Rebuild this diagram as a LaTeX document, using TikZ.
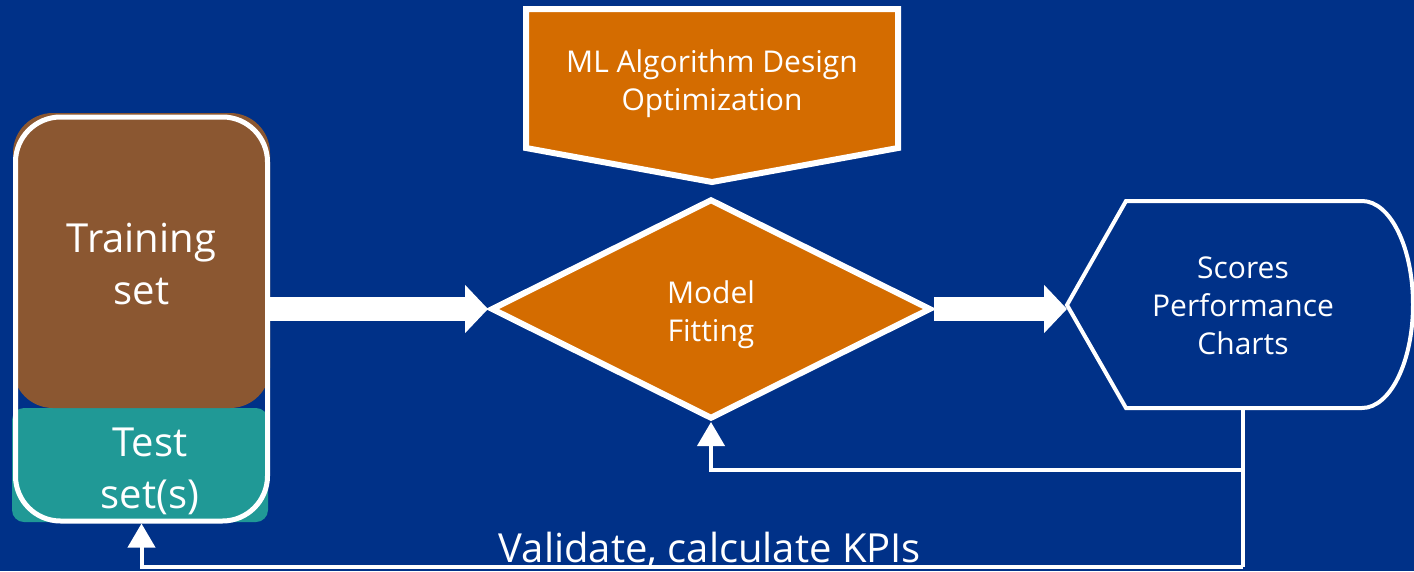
\documentclass[tikz,border=0pt]{standalone}
\usepackage{fontspec}
\setmainfont{Open Sans}
\usetikzlibrary{shapes.geometric, arrows.meta}
\definecolor{bgblue}{RGB}{0,49,136}
\definecolor{trainbrown}{RGB}{139,87,49}
\definecolor{testteal}{RGB}{32,153,150}
\definecolor{fitorange}{RGB}{212,108,0}
\tikzstyle{bigtext} = [text=white, align=center, font=\fontsize{40}{52}\selectfont]
\tikzstyle{medtext} = [text=white, align=center, font=\fontsize{30}{38}\selectfont]
\tikzstyle{trainset} = [rectangle, rounded corners=40pt, minimum width=257pt, minimum height=295pt, fill=trainbrown]
\tikzstyle{testset} = [rectangle, rounded corners=12pt, minimum width=256pt, minimum height=114pt, fill=testteal]
\tikzstyle{dataframe} = [rectangle, rounded corners=45pt, minimum width=252pt, minimum height=404pt, draw=white, line width=5pt]
\tikzstyle{decision} = [diamond, minimum width=440pt, minimum height=220pt, draw=white, line width=6pt, fill=fitorange]
\tikzstyle{display} = [rectangle, minimum width=352pt, minimum height=207pt, outer sep=0pt, medtext]
\tikzstyle{fatarrow} = [white, line width=24pt, -{Triangle[length=23pt,width=47pt]}]
\tikzstyle{arrow} = [white, line width=4pt, -{Triangle[length=24pt,width=27pt]}]
\tikzstyle{feedline} = [white, line width=4pt]

\begin{document}
\begin{tikzpicture}[x=1pt, y=-1pt]
\fill[bgblue] (0,0) rectangle (1414,571);
\useasboundingbox (0,0) rectangle (1414,571);

% data sets
\node (test) [testset, label={[bigtext, xshift=10pt, yshift=-6pt]center:Test\\set(s)}] at (140,465) {};
\node (train) [trainset, label={[bigtext, yshift=-4pt]center:Training\\set}] at (141.5,260.5) {};
\node (data) [dataframe] at (141.5,319) {};

% design box
\draw[white, line width=6pt, fill=fitorange] (526,9) -- (898,9) -- (898,148) -- (712,182) -- (526,148) -- cycle;
\node (design) [medtext] at (712,84) {ML Algorithm Design\\Optimization};

\node (fit) [decision, label={[medtext, yshift=-6pt]center:Model\\Fitting}] at (711,309) {};

% results
\draw[white, line width=4pt, fill=bgblue] (1067,305) -- (1126,201) -- (1362,201) arc[start angle=90, end angle=-90, x radius=51pt, y radius=103.5pt] -- (1126,408) -- cycle;
\node (scores) [display] at (1243,306) {Scores\\Performance\\Charts};

\draw [fatarrow] (data.east |- fit.west) -- (fit.west);
\draw [fatarrow] (fit.east) -- (scores.west |- fit.east);

% feedback
\coordinate (split) at (1243,470);
\coordinate (kpi) at (1243,567);
\draw [feedline] (scores.south) -- (kpi);
\draw [arrow] (split) -| (fit.south);
\draw [arrow] (kpi) -| (data.south);
\node (validate) [bigtext, anchor=base] at (710,562) {Validate, calculate KPIs};

\end{tikzpicture}
\end{document}
